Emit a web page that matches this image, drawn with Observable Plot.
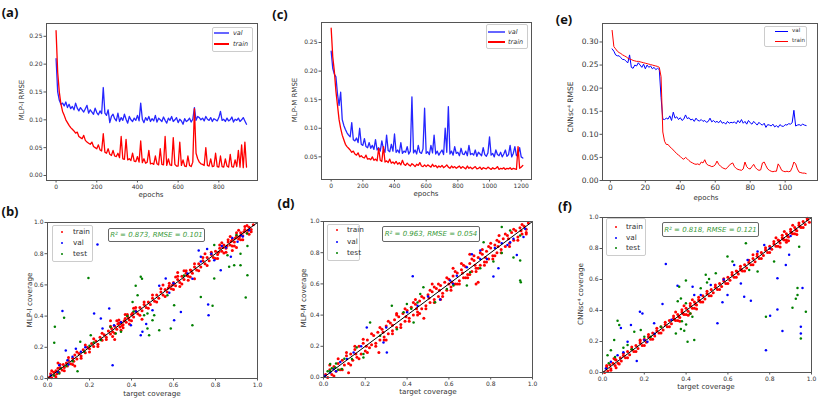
<!DOCTYPE html>
<html><head><meta charset="utf-8">
<script src="https://cdn.jsdelivr.net/npm/d3@7"></script>
<script src="https://cdn.jsdelivr.net/npm/@observablehq/plot@0.6"></script>
<style>
body{margin:0;background:#fff}
#root{position:relative;width:830px;height:403px;overflow:hidden;background:#fff;font-family:"DejaVu Sans",sans-serif;color:#333}
.t{position:absolute;white-space:nowrap;line-height:1}
</style></head><body><div id="root"></div>
<script>
// ---------- DATA ----------
// (a) MLP-I training curves, one value every 8 epochs from epoch 0
const stepA = 8;
const valA = [.210,.150,.135,.128,.130,.125,.132,.122,.128,.120,
.124,.118,.130,.121,.116,.122,.118,.114,.120,.126,
.112,.118,.114,.110,.121,.113,.109,.116,.111,.158,
.112,.108,.118,.095,.106,.110,.102,.098,.112,.097,
.104,.099,.110,.101,.094,.106,.100,.097,.103,.099,
.108,.098,.130,.101,.095,.104,.099,.106,.097,.102,
.098,.108,.096,.103,.100,.097,.105,.099,.094,.103,
.099,.106,.097,.100,.104,.095,.101,.098,.092,.102,
.097,.099,.103,.096,.101,.122,.099,.106,.104,.100,
.103,.098,.106,.101,.099,.104,.097,.102,.100,.098,
.104,.115,.099,.101,.097,.103,.098,.100,.105,.096,
.101,.099,.103,.097,.100,.104,.098,.092];
const trainA = [.260,.185,.150,.128,.115,.108,.100,.095,.090,.086,
.083,.080,.076,.078,.070,.068,.066,.072,.063,.060,
.058,.056,.060,.052,.050,.048,.055,.046,.044,.075,
.042,.040,.048,.038,.036,.045,.035,.034,.040,.032,
.070,.030,.029,.065,.028,.030,.027,.040,.026,.025,
.034,.024,.062,.023,.030,.022,.024,.045,.021,.022,
.020,.035,.021,.019,.048,.020,.019,.070,.018,.030,
.019,.018,.068,.020,.017,.017,.060,.018,.028,.017,
.016,.035,.018,.016,.024,.120,.040,.030,.024,.021,
.020,.018,.050,.018,.017,.030,.016,.017,.040,.016,
.015,.035,.016,.015,.030,.017,.015,.038,.016,.015,
.028,.016,.045,.015,.055,.014,.060,.015];
// (c) MLP-M training curves, one value every 10 epochs from epoch 0
const stepC = 10;
const valC = [.235,.205,.195,.190,.160,.140,.163,.115,.105,.098,
.092,.088,.085,.110,.080,.078,.083,.075,.100,.072,
.070,.082,.068,.066,.075,.065,.070,.063,.080,.062,
.066,.060,.078,.064,.058,.088,.061,.059,.072,.060,
.090,.058,.062,.057,.075,.056,.060,.058,.068,.055,
.060,.155,.057,.062,.055,.070,.058,.056,.064,.135,
.056,.059,.054,.070,.057,.088,.055,.060,.053,.058,
.062,.054,.100,.058,.138,.055,.060,.053,.068,.056,
.058,.052,.065,.055,.054,.060,.052,.070,.054,.056,
.053,.062,.051,.058,.055,.052,.066,.054,.051,.057,
.085,.053,.056,.050,.062,.054,.052,.058,.050,.055,
.062,.051,.054,.070,.050,.056,.068,.052,.055,.066,
.050,.048];
const trainC = [.275,.225,.200,.165,.140,.115,.100,.088,.080,.072,
.068,.065,.062,.058,.060,.055,.053,.057,.050,.052,
.049,.048,.053,.046,.047,.045,.050,.044,.046,.043,
.065,.044,.042,.068,.041,.043,.040,.046,.039,.041,
.038,.042,.037,.040,.036,.044,.037,.035,.039,.036,
.034,.038,.036,.033,.037,.035,.040,.034,.033,.036,
.033,.036,.034,.032,.037,.033,.035,.031,.034,.032,
.035,.031,.033,.036,.032,.030,.034,.031,.033,.030,
.032,.034,.030,.033,.031,.029,.034,.030,.032,.029,
.031,.033,.029,.030,.032,.028,.031,.030,.029,.032,
.030,.028,.031,.029,.030,.033,.028,.030,.029,.031,
.028,.030,.029,.031,.028,.030,.029,.028,.068,.030,
.032,.035];
// (e) CNNsc4 training curves, one value per epoch from epoch 1
const firstE = 1;
const valE = [.285,.280,.272,.270,.270,.266,.262,.262,.258,.255,
.272,.245,.243,.250,.248,.255,.250,.245,.252,.242,
.250,.245,.248,.242,.245,.240,.243,.240,.180,.133,
.132,.135,.133,.140,.130,.148,.135,.138,.132,.136,
.130,.133,.142,.134,.136,.131,.133,.128,.135,.130,
.129,.132,.128,.130,.126,.128,.135,.127,.130,.126,
.128,.125,.130,.124,.126,.122,.128,.124,.126,.125,
.127,.123,.130,.125,.132,.124,.128,.122,.130,.125,
.122,.128,.124,.120,.126,.122,.120,.124,.115,.121,
.120,.118,.122,.116,.119,.115,.121,.118,.117,.121,
.120,.123,.122,.125,.152,.118,.120,.121,.119,.122,
.120,.119];
const trainE = [.325,.290,.285,.280,.277,.275,.272,.270,.268,.265,
.263,.262,.260,.259,.258,.258,.257,.256,.255,.254,
.253,.252,.251,.250,.249,.248,.247,.245,.225,.105,
.085,.078,.078,.073,.070,.066,.062,.058,.055,.052,
.048,.046,.050,.047,.043,.040,.038,.036,.035,.036,
.034,.040,.038,.045,.036,.033,.032,.030,.031,.034,
.042,.035,.031,.028,.026,.025,.028,.033,.036,.038,
.030,.026,.024,.023,.022,.025,.040,.030,.026,.025,
.030,.035,.028,.024,.022,.023,.038,.040,.032,.025,
.022,.020,.019,.020,.020,.036,.030,.022,.020,.019,
.020,.019,.020,.028,.040,.036,.025,.018,.017,.016,
.016,.015];

// (b) MLP-I parity: [target, predicted]
const trainB = [[0.01,0.01],[0.015,0.03],[0.02,0.005],[0.03,0.04],[0.035,0.02],[0.04,0.05],[0.045,0.03],[0.05,0.065],[0.055,0.04],[0.06,0.07],[0.07,0.055],[0.075,0.09],[0.08,0.07],[0.09,0.1],[0.095,0.08],[0.1,0.115],[0.11,0.095],[0.12,0.13],[0.125,0.11],[0.13,0.15],[0.14,0.125],[0.15,0.16],[0.16,0.145],[0.17,0.185],[0.18,0.165],[0.19,0.2],[0.2,0.19],[0.21,0.225],[0.22,0.205],[0.23,0.24],[0.24,0.22],[0.25,0.265],[0.26,0.245],[0.27,0.28],[0.28,0.265],[0.29,0.305],[0.3,0.285],[0.305,0.32],[0.31,0.3],[0.32,0.335],[0.33,0.315],[0.34,0.355],[0.345,0.33],[0.35,0.36],[0.36,0.345],[0.37,0.385],[0.375,0.36],[0.38,0.4],[0.39,0.375],[0.4,0.41],[0.41,0.395],[0.42,0.435],[0.43,0.415],[0.44,0.455],[0.45,0.435],[0.46,0.475],[0.47,0.455],[0.48,0.49],[0.49,0.475],[0.5,0.515],[0.51,0.495],[0.52,0.535],[0.53,0.515],[0.54,0.555],[0.55,0.535],[0.56,0.57],[0.57,0.555],[0.58,0.595],[0.59,0.575],[0.6,0.615],[0.61,0.595],[0.62,0.635],[0.63,0.615],[0.64,0.655],[0.65,0.635],[0.66,0.675],[0.67,0.655],[0.68,0.695],[0.69,0.675],[0.7,0.715],[0.71,0.695],[0.72,0.735],[0.73,0.715],[0.74,0.755],[0.75,0.735],[0.76,0.775],[0.77,0.755],[0.78,0.795],[0.79,0.775],[0.8,0.815],[0.81,0.795],[0.82,0.835],[0.83,0.815],[0.84,0.855],[0.85,0.835],[0.86,0.875],[0.87,0.855],[0.88,0.895],[0.89,0.875],[0.9,0.915],[0.91,0.895],[0.92,0.935],[0.93,0.915],[0.94,0.955],[0.95,0.935],[0.96,0.97],[0.97,0.955],[0.98,0.985],
[0.3,0.37],[0.32,0.25],[0.45,0.38],[0.62,0.68],[0.88,0.82],[0.9,0.84],[0.75,0.8],[0.13,0.08],[0.55,0.6],[0.05,0.1],[0.7,0.64],[0.335,0.35],[0.355,0.34],[0.365,0.37],[0.385,0.39],[0.405,0.42],[0.815,0.81],[0.835,0.84],[0.855,0.85],[0.875,0.88],[0.895,0.9],[0.915,0.91],[0.935,0.94],[0.955,0.95],[0.575,0.58],[0.595,0.6],[0.665,0.66],[0.685,0.69],
[0.02,0.05],[0.04,0.01],[0.06,0.09],[0.08,0.05],[0.1,0.135],[0.12,0.09],[0.14,0.17],[0.16,0.13],[0.18,0.215],[0.2,0.17],[0.22,0.255],[0.24,0.205],[0.26,0.29],[0.28,0.25],[0.3,0.335],[0.32,0.29],[0.34,0.375],[0.36,0.325],[0.38,0.41],[0.4,0.37],[0.42,0.455],[0.44,0.405],[0.46,0.49],[0.48,0.45],[0.5,0.535],[0.52,0.49],[0.54,0.575],[0.56,0.525],[0.58,0.61],[0.6,0.57],[0.62,0.655],[0.64,0.605],[0.66,0.69],[0.68,0.65],[0.7,0.735],[0.72,0.69],[0.74,0.775],[0.76,0.725],[0.78,0.81],[0.8,0.77],[0.82,0.855],[0.84,0.805],[0.86,0.89],[0.88,0.85],[0.9,0.935],[0.92,0.89],[0.94,0.975],[0.96,0.925],[0.31,0.27],[0.33,0.37],[0.35,0.31],[0.37,0.41],[0.39,0.35],[0.41,0.45],[0.81,0.77],[0.83,0.87],[0.85,0.81],[0.87,0.91],[0.89,0.85],[0.91,0.95],[0.93,0.89],[0.95,0.98],[0.97,0.94],[0.61,0.65],[0.63,0.59],[0.65,0.69],[0.67,0.63]];
const valB = [[0.238,0.859],[0.071,0.432],[0.31,0.085],[0.222,0.417],[0.254,0.385],[0.294,0.449],[0.563,0.641],[0.532,0.594],[0.635,0.427],[0.603,0.374],[0.452,0.299],[0.444,0.278],[0.5,0.438],[0.767,0.406],[0.765,0.474],[0.69,0.64],[0.73,0.75],[0.825,0.694],[0.873,0.78],[0.905,0.876],[0.92,0.919],[0.96,0.95],[0.73,0.78],[0.72,0.82],[0.794,0.758],[0.667,0.673],[0.016,0.02],[0.056,0.085],[0.095,0.117],[0.119,0.139],[0.135,0.19],[0.159,0.171],[0.087,0.18],[0.262,0.32],[0.317,0.342],[0.397,0.342],[0.05,0.04],[0.1,0.09],[0.18,0.2],[0.35,0.36],[0.42,0.43],[0.6,0.61],[0.78,0.8],[0.85,0.84],[0.88,0.9],[0.93,0.91],[0.83,0.85],[0.76,0.83],[0.58,0.55],[0.47,0.35]];
const testB = [[0.195,0.645],[0.035,0.331],[0.032,0.229],[0.079,0.389],[0.42,0.594],[0.444,0.652],[0.45,0.64],[0.405,0.491],[0.429,0.534],[0.476,0.417],[0.508,0.406],[0.5,0.374],[0.484,0.278],[0.532,0.31],[0.587,0.32],[0.69,0.342],[0.73,0.523],[0.786,0.466],[0.794,0.641],[0.865,0.716],[0.889,0.726],[0.919,0.726],[0.944,0.519],[0.952,0.662],[0.952,0.85],[0.794,0.855],[0.857,0.79],[0.919,0.8],[0.156,0.235],[0.175,0.171],[0.143,0.047],[0.056,0.032],[0.063,0.064],[0.03,0.02],[0.206,0.278],[0.254,0.246],[0.325,0.288],[0.35,0.3],[0.3,0.33],[0.46,0.406],[0.476,0.32],[0.603,0.47],[0.571,0.534],[0.2,0.21],[0.22,0.23],[0.09,0.08],[0.12,0.11],[0.38,0.4],[0.41,0.43],[0.65,0.66],[0.9,0.92],[0.95,0.93]];

// (d) MLP-M parity
const trainD = [[0.01,0.02],[0.02,0.0],[0.03,0.05],[0.04,0.02],[0.05,0.07],[0.06,0.04],[0.07,0.09],[0.08,0.05],[0.09,0.11],[0.1,0.08],[0.11,0.14],[0.12,0.09],[0.12,0.03],[0.13,0.15],[0.14,0.11],[0.15,0.18],[0.16,0.13],[0.17,0.2],[0.18,0.15],[0.19,0.22],[0.2,0.17],[0.21,0.24],[0.22,0.19],[0.23,0.21],[0.24,0.27],[0.25,0.22],[0.26,0.29],[0.27,0.24],[0.28,0.31],[0.29,0.26],[0.3,0.33],[0.31,0.28],[0.32,0.35],[0.33,0.3],[0.34,0.37],[0.35,0.32],[0.36,0.39],[0.37,0.34],[0.38,0.41],[0.39,0.36],[0.4,0.43],[0.41,0.38],[0.42,0.45],[0.43,0.4],[0.44,0.47],[0.45,0.42],[0.46,0.49],[0.47,0.44],[0.48,0.51],[0.49,0.46],[0.5,0.53],[0.51,0.48],[0.52,0.55],[0.53,0.5],[0.54,0.57],[0.55,0.52],[0.56,0.59],[0.57,0.54],[0.58,0.61],[0.59,0.56],[0.6,0.63],[0.61,0.58],[0.62,0.65],[0.63,0.6],[0.64,0.67],[0.65,0.62],[0.66,0.69],[0.67,0.64],[0.68,0.71],[0.69,0.66],[0.7,0.73],[0.71,0.68],[0.72,0.75],[0.73,0.7],[0.74,0.77],[0.75,0.72],[0.76,0.79],[0.77,0.74],[0.78,0.81],[0.79,0.76],[0.8,0.83],[0.81,0.78],[0.82,0.85],[0.83,0.8],[0.84,0.87],[0.85,0.82],[0.86,0.89],[0.87,0.84],[0.88,0.91],[0.89,0.86],[0.9,0.93],[0.91,0.88],[0.92,0.94],[0.93,0.9],[0.94,0.96],[0.95,0.92],[0.96,0.97],[0.97,0.95],[0.98,0.99],
[0.205,0.2],[0.33,0.335],[0.445,0.44],[0.555,0.56],[0.665,0.67],[0.775,0.77],[0.885,0.89],[0.3,0.24],[0.265,0.16],[0.48,0.38],[0.6,0.6],[0.73,0.6],[0.74,0.61],[0.97,0.93],[0.35,0.41],[0.52,0.6],[0.62,0.7],[0.84,0.91],[0.7,0.79],[0.395,0.39],[0.505,0.51],[0.615,0.61],[0.725,0.72],[0.835,0.84],[0.945,0.94],[0.285,0.29],[0.155,0.15],
[0.03,0.08],[0.05,0.01],[0.07,0.12],[0.09,0.05],[0.11,0.16],[0.13,0.08],[0.15,0.2],[0.17,0.12],[0.19,0.245],[0.21,0.16],[0.23,0.28],[0.25,0.2],[0.27,0.32],[0.29,0.24],[0.31,0.36],[0.33,0.28],[0.35,0.4],[0.37,0.32],[0.39,0.44],[0.41,0.36],[0.43,0.48],[0.45,0.4],[0.47,0.52],[0.49,0.44],[0.51,0.56],[0.53,0.48],[0.55,0.6],[0.57,0.52],[0.59,0.64],[0.61,0.56],[0.63,0.68],[0.65,0.6],[0.67,0.72],[0.69,0.64],[0.71,0.76],[0.73,0.68],[0.75,0.8],[0.77,0.72],[0.79,0.84],[0.81,0.76],[0.83,0.88],[0.85,0.8],[0.87,0.92],[0.89,0.84],[0.91,0.95],[0.93,0.88],[0.95,0.98],[0.97,0.92],[0.64,0.6],[0.66,0.73],[0.68,0.64],[0.7,0.66],[0.72,0.78],[0.74,0.7],[0.76,0.82],[0.78,0.74],[0.8,0.86],[0.82,0.78],[0.53,0.58],[0.56,0.5],[0.44,0.5],[0.46,0.41]];
const valD = [[0.427,0.649],[0.925,0.786],[0.893,0.867],[0.75,0.814],[0.71,0.79],[0.837,0.7],[0.813,0.647],[0.606,0.621],[0.638,0.653],[0.558,0.5],[0.303,0.161],[0.287,0.225],[0.144,0.161],[0.112,0.118],[0.032,0.032],[0.008,0.011],[0.048,0.054],[0.207,0.321],[0.4,0.418],[0.686,0.707],[0.957,0.9],[0.965,0.953],[0.909,0.889],[0.782,0.76],[0.853,0.86],[0.3,0.32],[0.5,0.52],[0.62,0.6],[0.75,0.76],[0.18,0.2],[0.08,0.1],[0.06,0.04],[0.45,0.46],[0.82,0.83],[0.88,0.85]];
const testD = [[0.853,0.964],[0.893,0.942],[0.941,0.91],[0.909,0.77],[0.941,0.75],[0.941,0.621],[0.944,0.61],[0.223,0.353],[0.327,0.46],[0.478,0.578],[0.463,0.535],[0.399,0.471],[0.383,0.418],[0.431,0.353],[0.159,0.193],[0.136,0.118],[0.032,0.043],[0.056,0.064],[0.032,0.086],[0.088,0.054],[0.191,0.15],[0.271,0.268],[0.351,0.31],[0.534,0.482],[0.59,0.567],[0.622,0.589],[0.686,0.589],[0.702,0.675],[0.75,0.7],[0.813,0.743],[0.853,0.798],[0.766,0.867],[0.191,0.128],[0.04,0.06],[0.07,0.05],[0.1,0.12],[0.42,0.44],[0.45,0.48],[0.02,0.04],[0.06,0.09]];

// (f) CNNsc4 parity
const trainF = [[0.01,0.0],[0.02,0.035],[0.025,0.01],[0.035,0.05],[0.04,0.025],[0.05,0.06],[0.06,0.045],[0.065,0.08],[0.075,0.06],[0.085,0.095],[0.09,0.075],[0.1,0.11],[0.11,0.095],[0.12,0.135],[0.13,0.115],[0.14,0.15],[0.15,0.135],[0.16,0.175],[0.17,0.155],[0.18,0.19],[0.19,0.175],[0.2,0.215],[0.21,0.195],[0.22,0.23],[0.23,0.215],[0.24,0.255],[0.25,0.235],[0.26,0.27],[0.27,0.255],[0.28,0.295],[0.29,0.275],[0.3,0.31],[0.31,0.295],[0.32,0.335],[0.33,0.315],[0.34,0.35],[0.35,0.335],[0.36,0.375],[0.37,0.355],[0.38,0.39],[0.39,0.375],[0.4,0.415],[0.41,0.395],[0.42,0.43],[0.43,0.415],[0.44,0.455],[0.45,0.435],[0.46,0.47],[0.47,0.455],[0.48,0.495],[0.49,0.475],[0.5,0.51],[0.51,0.495],[0.52,0.535],[0.53,0.515],[0.54,0.55],[0.55,0.535],[0.56,0.575],[0.57,0.555],[0.58,0.59],[0.59,0.575],[0.6,0.615],[0.61,0.595],[0.62,0.63],[0.63,0.615],[0.64,0.655],[0.65,0.635],[0.66,0.67],[0.67,0.655],[0.68,0.695],[0.69,0.675],[0.7,0.71],[0.71,0.695],[0.72,0.735],[0.73,0.715],[0.74,0.75],[0.75,0.735],[0.76,0.775],[0.77,0.755],[0.78,0.79],[0.79,0.775],[0.8,0.815],[0.81,0.795],[0.82,0.83],[0.83,0.815],[0.84,0.855],[0.85,0.835],[0.86,0.87],[0.87,0.855],[0.88,0.895],[0.89,0.875],[0.9,0.91],[0.91,0.895],[0.92,0.935],[0.93,0.915],[0.94,0.95],[0.95,0.935],[0.96,0.975],[0.97,0.955],[0.98,0.985],[0.99,0.97],
[0.345,0.34],[0.365,0.36],[0.385,0.38],[0.445,0.44],[0.465,0.46],[0.645,0.65],[0.665,0.66],[0.845,0.85],[0.865,0.86],[0.885,0.88],[0.905,0.9],[0.925,0.92],[0.945,0.94],[0.065,0.03],[0.055,0.09],[0.18,0.21],[0.42,0.38],[0.72,0.76],[0.88,0.84],
[0.02,0.045],[0.04,0.015],[0.06,0.085],[0.08,0.055],[0.1,0.125],[0.12,0.095],[0.14,0.165],[0.16,0.135],[0.18,0.205],[0.2,0.175],[0.22,0.245],[0.24,0.215],[0.26,0.285],[0.28,0.255],[0.3,0.325],[0.32,0.295],[0.34,0.365],[0.36,0.335],[0.38,0.405],[0.4,0.375],[0.42,0.445],[0.44,0.415],[0.46,0.485],[0.48,0.455],[0.5,0.525],[0.52,0.495],[0.54,0.565],[0.56,0.535],[0.58,0.605],[0.6,0.575],[0.62,0.645],[0.64,0.615],[0.66,0.685],[0.68,0.655],[0.7,0.725],[0.72,0.695],[0.74,0.765],[0.76,0.735],[0.78,0.805],[0.8,0.775],[0.82,0.845],[0.84,0.815],[0.86,0.885],[0.88,0.855],[0.9,0.925],[0.92,0.895],[0.94,0.965],[0.96,0.935],[0.98,0.995],[0.35,0.39],[0.37,0.33],[0.39,0.43],[0.41,0.37],[0.43,0.47],[0.45,0.41],[0.83,0.87],[0.85,0.81],[0.87,0.91],[0.89,0.85],[0.91,0.95],[0.93,0.89]];
const valF = [[0.303,0.7],[0.359,0.56],[0.431,0.554],[0.287,0.442],[0.247,0.317],[0.179,0.392],[0.191,0.381],[0.136,0.306],[0.088,0.287],[0.12,0.198],[0.215,0.198],[0.164,0.075],[0.55,0.317],[0.574,0.453],[0.598,0.5],[0.662,0.575],[0.678,0.489],[0.71,0.463],[0.782,0.144],[0.802,0.366],[0.837,0.407],[0.861,0.267],[0.837,0.608],[0.877,0.694],[0.893,0.759],[0.949,0.295],[0.949,0.252],[0.957,0.545],[0.742,0.78],[0.774,0.823],[0.694,0.726],[0.63,0.694],[0.518,0.565],[0.47,0.5],[0.016,0.026],[0.04,0.069],[0.072,0.112],[0.439,0.5],[0.25,0.25],[0.33,0.34],[0.58,0.6],[0.8,0.8],[0.9,0.88],[0.1,0.13],[0.2,0.21]];
const testF = [[0.686,0.834],[0.598,0.748],[0.622,0.716],[0.941,0.812],[0.933,0.545],[0.933,0.5],[0.909,0.418],[0.925,0.476],[0.973,0.392],[0.949,0.22],[0.782,0.36],[0.542,0.64],[0.494,0.631],[0.51,0.603],[0.399,0.593],[0.367,0.554],[0.375,0.478],[0.399,0.446],[0.36,0.46],[0.351,0.252],[0.375,0.28],[0.391,0.269],[0.439,0.209],[0.407,0.198],[0.072,0.334],[0.08,0.306],[0.056,0.209],[0.04,0.144],[0.024,0.112],[0.183,0.274],[0.152,0.263],[0.2,0.23],[0.12,0.177],[0.231,0.231],[0.279,0.295],[0.47,0.543],[0.5,0.58],[0.702,0.662],[0.742,0.651],[0.821,0.716],[0.03,0.06],[0.06,0.1],[0.1,0.16],[0.14,0.15],[0.42,0.38],[0.43,0.36],[0.38,0.33],[0.4,0.31]];

const identity = [0, 1];
const ticksA_x = [0,200,400,600,800], ticksA_y = [0,0.05,0.10,0.15,0.20,0.25];
const ticksC_x = [0,200,400,600,800,1000,1200], ticksC_y = [0.05,0.10,0.15,0.20,0.25];
const ticksE_x = [0,20,40,60,80,100], ticksE_y = [0,0.05,0.10,0.15,0.20,0.25,0.30];
const ticksCov = [0,0.2,0.4,0.6,0.8,1.0];
const stats = {b:"R² = 0.873, RMSE = 0.101", d:"R² = 0.963, RMSE = 0.054", f:"R² = 0.818, RMSE = 0.121"};

// ---------- HELPERS ----------
const root = document.getElementById("root");
const f2 = d3.format(".2f"), f1 = d3.format(".1f"), f0 = d3.format("d");
function panel(fr, xd, yd, xt, yt, xf, yf, fs, marks) {
  const ml = 40, mr = 4, mt = 4, mb = 14;
  const [x0, y0, x1, y1] = fr;
  const svg = Plot.plot({
    width: x1 - x0 + ml + mr, height: y1 - y0 + mt + mb,
    marginLeft: ml, marginRight: mr, marginTop: mt, marginBottom: mb,
    style: {fontFamily: "DejaVu Sans", fontSize: fs + "px", color: "#333", background: "transparent", overflow: "visible"},
    x: {domain: xd}, y: {domain: yd},
    marks: [...marks,
      Plot.frame({stroke: "#555", strokeWidth: 1}),
      Plot.axisX({ticks: xt, tickFormat: xf, tickSize: 2.5, tickPadding: 1.5, label: null, fontSize: fs, stroke: "#555"}),
      Plot.axisY({ticks: yt, tickFormat: yf, tickSize: 2.5, tickPadding: 1.5, label: null, fontSize: fs, stroke: "#555"})]
  });
  svg.style.position = "absolute"; svg.style.left = (x0 - ml) + "px"; svg.style.top = (y0 - mt) + "px";
  root.appendChild(svg);
}
function txt(s, x, y, o = {}) {
  const d = document.createElement("div");
  d.className = "t"; d.textContent = s;
  d.style.left = x + "px"; d.style.top = y + "px";
  d.style.fontSize = (o.size || 7) + "px";
  if (o.weight) d.style.fontWeight = o.weight;
  if (o.italic) d.style.fontStyle = "italic";
  if (o.color) d.style.color = o.color;
  if (o.family) d.style.fontFamily = o.family;
  const ax = o.anchor === "start" ? "0" : "-50%";
  d.style.transform = `translate(${ax},-50%)` + (o.rotate ? ` rotate(${o.rotate}deg)` : "");
  root.appendChild(d); return d;
}
function box(x0, y0, x1, y1, border, bg) {
  const d = document.createElement("div");
  d.style.cssText = `position:absolute;left:${x0}px;top:${y0}px;width:${x1-x0}px;height:${y1-y0}px;box-sizing:border-box;border:1px solid ${border};border-radius:2px;background:${bg}`;
  root.appendChild(d);
}
function lineKey(x0, x1, y, color, w, op) {
  const d = document.createElement("div");
  d.style.cssText = `position:absolute;left:${x0}px;top:${y-w/2}px;width:${x1-x0}px;height:${w}px;background:${color};opacity:${op}`;
  root.appendChild(d);
}
function dotKey(x, y, color) {
  const d = document.createElement("div");
  d.style.cssText = `position:absolute;left:${x-1.3}px;top:${y-1.3}px;width:2.6px;height:2.6px;border-radius:50%;background:${color}`;
  root.appendChild(d);
}
const lineMarks = (val, train, x0, step, valOp, w) => [
  Plot.line(val, {x: (d, i) => x0 + i * step, y: d => d, stroke: "#0000ff", strokeWidth: w, strokeOpacity: valOp}),
  Plot.line(train, {x: (d, i) => x0 + i * step, y: d => d, stroke: "#ff0000", strokeWidth: w})
];
const scatterMarks = (tr, va, te) => [
  Plot.dot(tr, {x: d => d[0], y: d => d[1], r: 1.5, fill: "#ff0000"}),
  Plot.dot(va, {x: d => d[0], y: d => d[1], r: 1.25, fill: "#0000ff"}),
  Plot.dot(te, {x: d => d[0], y: d => d[1], r: 1.25, fill: "#008000"}),
  Plot.line(identity, {x: d => d, y: d => d, stroke: "#000", strokeWidth: 1})
];

// ---------- PANELS ----------
panel([46, 23, 257, 180], [-47, 990], [-0.009, 0.273], ticksA_x, ticksA_y, f0, f2, 6, lineMarks(valA, trainA, 0, stepA, 0.85, 1.3));
panel([321, 22, 531, 179], [-61, 1265], [0.0104, 0.285], ticksC_x, ticksC_y, f0, f2, 6, lineMarks(valC, trainC, 0, stepC, 0.85, 1.3));
panel([602, 23, 817, 180], [-4.5, 118.5], [0, 0.34], ticksE_x, ticksE_y, f0, f2, 7.5, lineMarks(valE, trainE, firstE, 1, 1, 1));
panel([47, 222, 257, 378], [0, 1], [0, 1], ticksCov, ticksCov, f1, f1, 6, scatterMarks(trainB, valB, testB));
panel([323, 221, 532, 377], [0, 1], [0, 1], ticksCov, ticksCov, f1, f1, 6, scatterMarks(trainD, valD, testD));
panel([602, 217, 811, 372], [0, 1], [0, 1], ticksCov, ticksCov, f1, f1, 6, scatterMarks(trainF, valF, testF));

// ---------- TEXT ----------
const lab = {size: 13, weight: "bold", family: "'Open Sans',sans-serif", color: "#111"};
txt("(a)", 10, 12, lab); txt("(b)", 10, 211, lab);
txt("(c)", 280, 14, lab); txt("(d)", 286, 203, lab);
txt("(e)", 564, 19, lab); txt("(f)", 565, 206, lab);

txt("MLP-I RMSE", 22, 100, {size: 7, rotate: -90});
txt("epochs", 151, 195, {size: 7});
txt("MLP-M RMSE", 295, 100, {size: 7, rotate: -90});
txt("epochs", 426, 194, {size: 7});
txt("CNNsc⁴ RMSE", 571, 107, {size: 7.5, rotate: -90});
txt("epochs", 706, 198, {size: 7});
txt("MLP-I coverage", 30, 300, {size: 7.2, rotate: -90});
txt("target coverage", 152, 394, {size: 7.2});
txt("MLP-M coverage", 304, 298, {size: 7.2, rotate: -90});
txt("target coverage", 428, 392, {size: 7.2});
txt("CNNsc⁴ coverage", 581, 294, {size: 7.2, rotate: -90});
txt("target coverage", 706, 387, {size: 7.2});

// line legends
box(212, 27, 253, 52, "#ccc", "rgba(255,255,255,0.85)");
lineKey(214, 229, 33, "#0000ff", 1.2, 0.6); txt("val", 233, 33, {size: 6.5, italic: true, anchor: "start"});
lineKey(214, 229, 44, "#ff0000", 1.2, 1); txt("train", 233, 44, {size: 6.5, italic: true, anchor: "start"});
box(486, 24, 528, 49, "#ccc", "rgba(255,255,255,0.85)");
lineKey(488, 505, 32, "#0000ff", 1.6, 0.6); txt("val", 508, 32, {size: 6.5, italic: true, anchor: "start"});
lineKey(488, 505, 42, "#ff0000", 1.2, 1); txt("train", 508, 42, {size: 6.5, italic: true, anchor: "start"});
box(764, 26, 807, 47, "#ccc", "rgba(255,255,255,0.85)");
lineKey(775, 788, 31, "#0000ff", 1, 1); txt("val", 792, 31, {size: 5.6, anchor: "start"});
lineKey(775, 788, 41, "#ff0000", 1, 1); txt("train", 792, 41, {size: 5.6, anchor: "start"});

// scatter legends
const sleg = (x0, y0, x1, y1, mx, tx, rows) => {
  box(x0, y0, x1, y1, "#ccc", "rgba(255,255,255,0.85)");
  const names = ["train", "val", "test"], cols = ["#ff0000", "#0000ff", "#008000"];
  rows.forEach((ry, i) => { dotKey(mx, ry, cols[i]); txt(names[i], tx, ry, {size: 7.3, anchor: "start"}); });
};
sleg(52, 225, 93, 262, 62, 73, [232, 243, 254]);
sleg(327, 224, 360, 261, 337, 347, [230, 242, 253]);
sleg(606, 218, 646, 256, 616, 626, [227, 238, 248]);

// stats boxes
const sbox = (x0, y0, x1, y1, s) => {
  box(x0, y0, x1, y1, "#666", "#fff");
  txt(s, (x0 + x1) / 2, (y0 + y1) / 2, {size: 7, italic: true, color: "#3a9a3a"});
};
sbox(108, 228, 205, 242, stats.b);
sbox(382, 226, 480, 242, stats.d);
sbox(662, 222, 759, 237, stats.f);
</script></body></html>
